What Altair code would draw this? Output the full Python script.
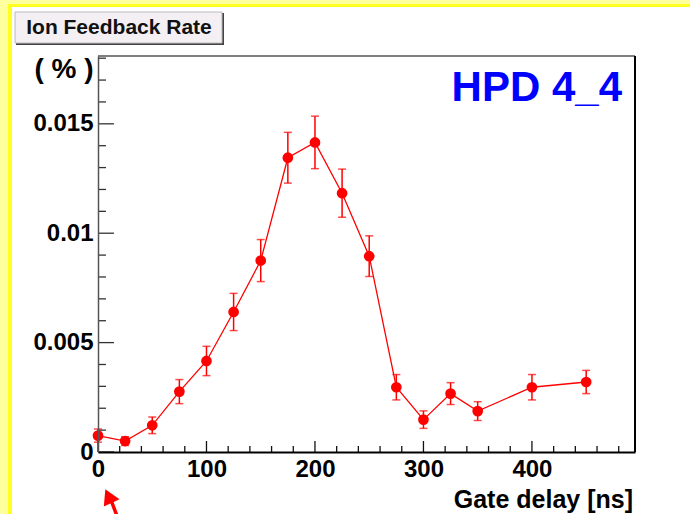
import altair as alt
import pandas as pd

# ---- data ----
gate = [0, 25, 50, 75, 100, 125, 150, 175, 200, 225, 250, 275, 300, 325, 350, 400, 450]
rate = [0.00075, 0.0005, 0.00122, 0.00276, 0.00416, 0.0064, 0.00875, 0.01345, 0.01415,
        0.01183, 0.00895, 0.00296, 0.00148, 0.00267, 0.00187, 0.00296, 0.0032]
err = [0.0003, 0.0002, 0.00038, 0.00055, 0.00067, 0.00085, 0.00096, 0.00116, 0.0012,
       0.0011, 0.00093, 0.00058, 0.0004, 0.0005, 0.00043, 0.00058, 0.00053]

x_major = [0, 100, 200, 300, 400]
x_minor = [20, 40, 60, 80, 120, 140, 160, 180, 220, 240, 260, 280, 320, 340, 360, 380, 420, 440, 460, 480]
y_major = [0, 0.005, 0.01, 0.015]
y_minor = [0.001, 0.002, 0.003, 0.004, 0.006, 0.007, 0.008, 0.009, 0.011, 0.012, 0.013, 0.014, 0.016, 0.017, 0.018]

title_text = "Ion Feedback Rate"
unit_text = "( % )"
tag_text = "HPD 4_4"
xtitle_text = "Gate delay [ns]"

FONT = "Liberation Sans"
W, H = 537, 396
RED = "#FF0000"
PALE = "#FFFF9E"
BRIGHT = "#FFFF22"

df = pd.DataFrame({"gate": gate, "rate": rate,
                   "lo": [r - e for r, e in zip(rate, err)],
                   "hi": [r + e for r, e in zip(rate, err)]})
one = pd.DataFrame({"a": [0]})

xscale = alt.Scale(domain=[0, 495], nice=False, zero=False)
yscale = alt.Scale(domain=[0, 0.0181], nice=False, zero=False)

xaxis = alt.Axis(values=x_major, ticks=False, grid=False, domainColor="black", domainWidth=2,
                 labelFont=FONT, labelFontSize=24, labelFontWeight="bold", labelColor="black",
                 labelPadding=5, labelFlush=False, title="", zindex=1)
yaxis = alt.Axis(values=y_major, format=".3~f", ticks=False, grid=False, domainColor="#555",
                 domainWidth=1.5, labelFont=FONT, labelFontSize=24, labelFontWeight="bold",
                 labelColor="black", labelPadding=5, labelFlush=False, title="", zindex=1)


def X(field):
    return alt.X(field, scale=xscale, axis=xaxis)


def Y(field):
    return alt.Y(field, scale=yscale, axis=yaxis)


def band(color, x1, x2, y1, y2):
    return alt.Chart(one).mark_rect(color=color).encode(
        x=alt.value(x1), x2=alt.value(x2), y=alt.value(y1), y2=alt.value(y2))


# decorations: pale outer border, bright yellow inner stripes (page is white)
right_white = band("white", W + 30, W + 80, -56, H + 200)
pale_left = band(PALE, -98, -90, -56, H + 200)
pale_top = band(PALE, -98, W + 200, -56, -52)
stripe_left = band(BRIGHT, -90, -86, -52, H + 200)
stripe_top = band(BRIGHT, -90, W + 200, -52, -49)

# frame lines
top_line = alt.Chart(one).mark_rule(color="#555", strokeWidth=1.5).encode(
    x=alt.value(0), x2=alt.value(W), y=alt.value(0))
right_line = alt.Chart(one).mark_rule(color="black", strokeWidth=2).encode(
    x=alt.value(W), y=alt.value(0), y2=alt.value(H))

# inward ticks
ymaj = alt.Chart(pd.DataFrame({"v": y_major})).mark_rule(color="#333", strokeWidth=1.3).encode(
    y=Y("v:Q"), x=alt.value(0), x2=alt.value(16))
ymin = alt.Chart(pd.DataFrame({"v": y_minor})).mark_rule(color="#333", strokeWidth=1.3).encode(
    y=Y("v:Q"), x=alt.value(0), x2=alt.value(8))
xmaj = alt.Chart(pd.DataFrame({"v": x_major})).mark_rule(color="#111", strokeWidth=1.3).encode(
    x=X("v:Q"), y=alt.value(H), y2=alt.value(H - 11))
xmin = alt.Chart(pd.DataFrame({"v": x_minor})).mark_rule(color="#111", strokeWidth=1.3).encode(
    x=X("v:Q"), y=alt.value(H), y2=alt.value(H - 6))

# data
base = alt.Chart(df)
line = base.mark_line(color=RED, strokeWidth=1.3).encode(x=X("gate:Q"), y=Y("rate:Q"))
bars = base.mark_rule(color=RED, strokeWidth=1.5).encode(x=X("gate:Q"), y=Y("lo:Q"), y2="hi:Q")
cap_lo = base.mark_tick(color=RED, orient="horizontal", size=8, thickness=1.5).encode(
    x=X("gate:Q"), y=Y("lo:Q"))
cap_hi = base.mark_tick(color=RED, orient="horizontal", size=8, thickness=1.5).encode(
    x=X("gate:Q"), y=Y("hi:Q"))
pts = base.mark_circle(color=RED, size=115, opacity=1).encode(x=X("gate:Q"), y=Y("rate:Q"))

# title box
box_shadow = alt.Chart(one).mark_rect(color="#444").encode(
    x=alt.value(-82), x2=alt.value(126), y=alt.value(-43), y2=alt.value(-11))
box = alt.Chart(one).mark_rect(color="#F3EFF3", stroke="#BBB", strokeWidth=1).encode(
    x=alt.value(-83), x2=alt.value(124), y=alt.value(-44), y2=alt.value(-13))
box_text = alt.Chart(one).mark_text(font=FONT, fontSize=21, fontWeight="bold", color="#111",
                                    align="center", baseline="middle").encode(
    x=alt.value(21), y=alt.value(-28), text=alt.value(title_text))

unit = alt.Chart(one).mark_text(font=FONT, fontSize=28, fontWeight="bold", color="black",
                                align="center", baseline="middle").encode(
    x=alt.value(-34), y=alt.value(14), text=alt.value(unit_text))
tag = alt.Chart(one).mark_text(font=FONT, fontSize=42, fontWeight="bold", color="#0000FF",
                               align="right", baseline="middle").encode(
    x=alt.value(524), y=alt.value(32), text=alt.value(tag_text))
xtitle = alt.Chart(one).mark_text(font=FONT, fontSize=25, fontWeight="bold", color="black",
                                  align="right", baseline="alphabetic").encode(
    x=alt.value(535), y=alt.value(452), text=alt.value(xtitle_text))

# arrow
head = alt.Chart(one).mark_point(shape="triangle-up", filled=True, color=RED, opacity=1,
                                 size=300, angle=335, strokeWidth=0).encode(
    x=alt.value(10.5), y=alt.value(440))
shaft = alt.Chart(one).mark_rule(color=RED, strokeWidth=3.5).encode(
    x=alt.value(13), y=alt.value(444), x2=alt.value(19), y2=alt.value(460))

chart = alt.layer(
    right_white, pale_left, pale_top, stripe_left, stripe_top, line, top_line, right_line,
    ymaj, ymin, xmaj, xmin, bars, cap_lo, cap_hi, pts,
    box_shadow, box, box_text, unit, tag, xtitle, head, shaft
).properties(
    width=W, height=H,
    padding={"left": 98, "top": 56, "right": 55, "bottom": 62},
    autosize="none",
    background="white",
).configure_view(strokeWidth=0)

chart.save("out.html", embed_options={"renderer": "svg", "actions": False})
